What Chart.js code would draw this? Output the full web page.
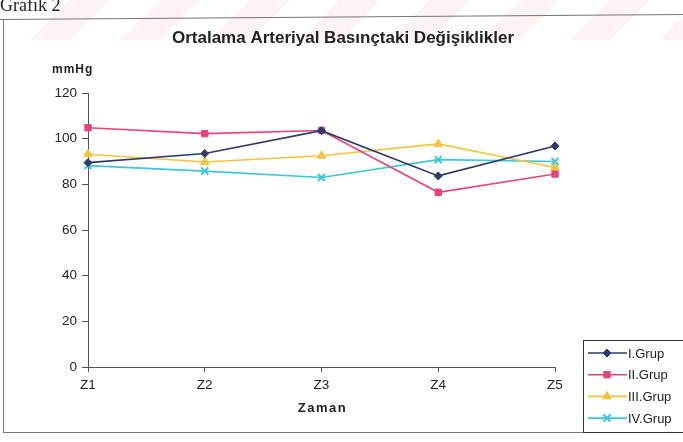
<!DOCTYPE html>
<html>
<head>
<meta charset="utf-8">
<script src="https://cdn.jsdelivr.net/npm/chart.js@4/dist/chart.umd.min.js"></script>
<style>
  html, body { margin: 0; padding: 0; background: #fff; }
  #wrap { position: relative; width: 683px; height: 442px; overflow: hidden; }
  canvas { display: block; }
</style>
</head>
<body>
<div id="wrap"><canvas id="c" width="683" height="442"></canvas></div>
<script>
// Measurement times and group series (mmHg)
const categories = ['Z1', 'Z2', 'Z3', 'Z4', 'Z5'];
const groupNames = ['I.Grup', 'II.Grup', 'III.Grup', 'IV.Grup'];
const grup1 = [89.5, 93.5, 103.5, 83.7, 96.8];
const grup2 = [104.8, 102.2, 103.6, 76.5, 84.5];
const grup3 = [93.2, 89.8, 92.5, 97.7, 87.4];
const grup4 = [88.2, 85.8, 83.0, 90.8, 90.0];
const yTicks = [0, 20, 40, 60, 80, 100, 120];

const titleText = 'Ortalama Arteriyal Basınçtaki Değişiklikler';
const yUnit = 'mmHg';
const xTitle = 'Zaman';
const captionText = 'Grafik 2';

const seriesColors = ['#2f3a6b', '#e8437c', '#f3c53d', '#3cc7d9'];
const seriesStyles = ['rectRot', 'rect', 'triangle', 'crossRot'];
const seriesRadius = [4, 4.5, 5, 5];
const seriesValues = [grup1, grup2, grup3, grup4];

const FONT = '"Liberation Sans", Arial, sans-serif';

const datasets = seriesValues.map((vals, i) => ({
  label: groupNames[i],
  data: vals,
  borderColor: seriesColors[i],
  backgroundColor: seriesColors[i],
  borderWidth: 1.6,
  pointStyle: seriesStyles[i],
  pointRadius: seriesRadius[i],
  pointHoverRadius: seriesRadius[i],
  pointBorderWidth: i === 3 ? 2 : 1,
  pointBackgroundColor: seriesColors[i],
  pointBorderColor: seriesColors[i],
  tension: 0
}));

function spaced(ctx, px) {
  if ('letterSpacing' in ctx) ctx.letterSpacing = px + 'px';
}

// Page frame, faint diagonal bands, caption, titles, unit and legend
const framePlugin = {
  id: 'frame',
  beforeDraw(chart) {
    const ctx = chart.ctx;
    ctx.save();
    ctx.fillStyle = '#ffffff';
    ctx.fillRect(0, 0, chart.width, chart.height);

    // faint pink diagonal bands across the page header
    ctx.fillStyle = 'rgba(236, 140, 155, 0.11)';
    const bandTop = [70, 160, 250, 340, 430, 520, 610, 700];
    bandTop.forEach(x => {
      ctx.beginPath();
      ctx.moveTo(x, 0);
      ctx.lineTo(x + 40, 0);
      ctx.lineTo(x, 40);
      ctx.lineTo(x - 40, 40);
      ctx.closePath();
      ctx.fill();
    });

    ctx.fillStyle = '#222';
    ctx.font = '18px "Liberation Serif", "Times New Roman", serif';
    ctx.textBaseline = 'alphabetic';
    ctx.textAlign = 'left';
    ctx.fillText(captionText, 0, 11);

    ctx.strokeStyle = '#777';
    ctx.lineWidth = 1;
    ctx.beginPath();
    ctx.moveTo(0, 19.5);
    ctx.lineTo(683, 14.5);
    ctx.moveTo(3.5, 19);
    ctx.lineTo(3.5, 432);
    ctx.moveTo(3, 432.5);
    ctx.lineTo(683, 432.5);
    ctx.stroke();
    ctx.restore();
  },
  afterDraw(chart) {
    const ctx = chart.ctx;
    const area = chart.chartArea;
    ctx.save();
    // chart title
    ctx.fillStyle = '#222';
    ctx.textAlign = 'center';
    ctx.textBaseline = 'middle';
    ctx.font = 'bold 17px ' + FONT;
    ctx.fillText(titleText, 343, 38);

    // x axis title, centred under the plot
    ctx.font = 'bold 13px ' + FONT;
    spaced(ctx, 1.5);
    ctx.fillText(xTitle, (area.left + area.right) / 2 + 1, 408);

    // unit label
    ctx.textAlign = 'left';
    ctx.font = 'bold 12px ' + FONT;
    spaced(ctx, 1);
    ctx.fillText(yUnit, 52, 70);
    spaced(ctx, 0);

    // legend box
    const lx = 583, ly = 340;
    ctx.strokeStyle = '#333';
    ctx.lineWidth = 1;
    ctx.strokeRect(lx + 0.5, ly + 0.5, 110, 92);
    chart.data.datasets.forEach((ds, i) => {
      const y = 353 + i * 21.7;
      ctx.strokeStyle = ds.borderColor;
      ctx.lineWidth = 1.6;
      ctx.beginPath();
      ctx.moveTo(588, y);
      ctx.lineTo(627, y);
      ctx.stroke();
      ctx.fillStyle = ds.backgroundColor;
      ctx.strokeStyle = ds.borderColor;
      ctx.lineWidth = ds.pointBorderWidth;
      Chart.helpers.drawPoint(ctx, { pointStyle: ds.pointStyle, radius: ds.pointRadius, borderWidth: ds.pointBorderWidth, rotation: 0 }, 607, y);
      ctx.fillStyle = '#222';
      ctx.font = '13px ' + FONT;
      ctx.textBaseline = 'middle';
      ctx.fillText(ds.label, 628, y + 1);
    });
    ctx.restore();
  }
};

new Chart(document.getElementById('c'), {
  type: 'line',
  data: { labels: categories, datasets },
  options: {
    responsive: false,
    animation: false,
    layout: { padding: { top: 93, right: 128, left: 0, bottom: 0 } },
    plugins: {
      legend: { display: false },
      title: { display: false },
      tooltip: { enabled: false }
    },
    scales: {
      x: {
        type: 'category',
        offset: false,
        grid: { drawOnChartArea: false, tickLength: 5, color: '#555' },
        border: { color: '#555', width: 1 },
        ticks: { color: '#222', font: { family: FONT, size: 13.5 }, padding: 5, maxRotation: 0 },
        title: { display: false },
        afterFit(scale) { scale.height = 75; }
      },
      y: {
        min: 0,
        max: 120,
        afterBuildTicks(scale) { scale.ticks = yTicks.map(v => ({ value: v })); },
        grid: { drawOnChartArea: false, tickLength: 6, color: '#555' },
        border: { color: '#555', width: 1 },
        ticks: { color: '#222', font: { family: FONT, size: 13.5 }, padding: 5 },
        afterFit(scale) { scale.width = 88; }
      }
    }
  },
  plugins: [framePlugin]
});
</script>
</body>
</html>
